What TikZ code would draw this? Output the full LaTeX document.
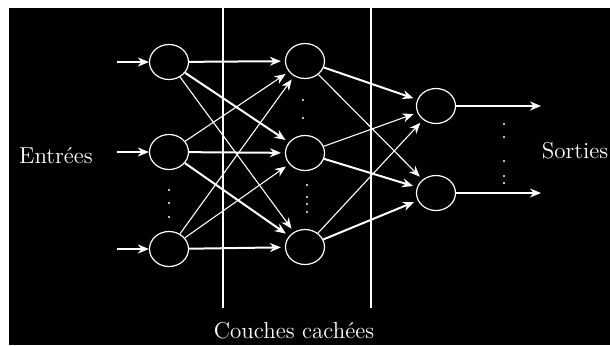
\documentclass[tikz,border=0pt]{standalone}
\usepackage{tikz}
\usetikzlibrary{shapes,arrows.meta,positioning,calc}

\begin{document}
\begin{tikzpicture}[x=0.5pt, y=-0.5pt,
  neuron/.style={ellipse, draw=white, line width=0.6pt, minimum width=19.5pt, minimum height=17.5pt, inner sep=0pt},
  fat/.style={-{Stealth[length=5.5pt,width=4.5pt]}, white, line width=1pt, shorten >=2pt},
  slim/.style={-{Stealth[length=5.5pt,width=4.5pt]}, white, line width=0.55pt, shorten >=2pt},
  lbl/.style={text=white, font=\fontsize{11.5}{13}\selectfont}]
\useasboundingbox (0,0) rectangle (610,345);
\fill[white] (0,0) rectangle (610,345);
\fill[black] (9,8) rectangle (610,345);
\coordinate (v1t) at (223,8); \coordinate (v1b) at (223,308);
\coordinate (v2t) at (371,8); \coordinate (v2b) at (371,308);
\draw[white, line width=1pt] (v1t) -- (v1b);
\draw[white, line width=0.7pt] (v2t) -- (v2b);
\node[neuron] (i1) at (169,62) {};
\node[neuron] (i2) at (169,152) {};
\node[neuron] (i3) at (169,249) {};
\node[neuron] (h1) at (305,61) {};
\node[neuron] (h2) at (305,153) {};
\node[neuron] (h3) at (305,247) {};
\node[neuron] (o1) at (436,106) {};
\node[neuron] (o2) at (436,193) {};
\coordinate (e1) at (117,62); \coordinate (e2) at (117,152); \coordinate (e3) at (117,249);
\coordinate (s1) at (541,106); \coordinate (s2) at (541,193);
\draw[fat, shorten >=0pt] (e1) -- (i1);
\draw[fat, shorten >=0pt] (e2) -- (i2);
\draw[fat, shorten >=0pt] (e3) -- (i3);
\draw[fat] (i1) -- (h1);
\draw[fat] (i1) -- (h2);
\draw[slim] (i1) -- (h3);
\draw[slim] (i2) -- (h1);
\draw[fat] (i2) -- (h2);
\draw[fat] (i2) -- (h3);
\draw[slim] (i3) -- (h1);
\draw[slim] (i3) -- (h2);
\draw[fat] (i3) -- (h3);
\draw[fat] (h1) -- (o1);
\draw[slim] (h1) -- (o2);
\draw[slim] (h2) -- (o1);
\draw[fat] (h2) -- (o2);
\draw[slim] (h3) -- (o1);
\draw[fat] (h3) -- (o2);
\draw[fat, line width=1.2pt, shorten >=0pt] (o1) -- (s1);
\draw[slim, shorten >=0pt] (o2) -- (s2);
\foreach \y in {190,203,217} \fill[white] (169,\y) circle (0.6pt);
\foreach \y in {100,118} \fill[white] (303,\y) circle (0.6pt);
\foreach \y in {185,197,204,212} \fill[white] (307,\y) circle (0.6pt);
\foreach \y in {124,137,161,176,183} \fill[white] (504,\y) circle (0.6pt);
\node[lbl] (entrees) at (56,156) {Entrées};
\node[lbl] (sorties) at (575,151) {Sorties};
\node[lbl] (couches) at (294,331) {Couches cachées};
\end{tikzpicture}
\end{document}
